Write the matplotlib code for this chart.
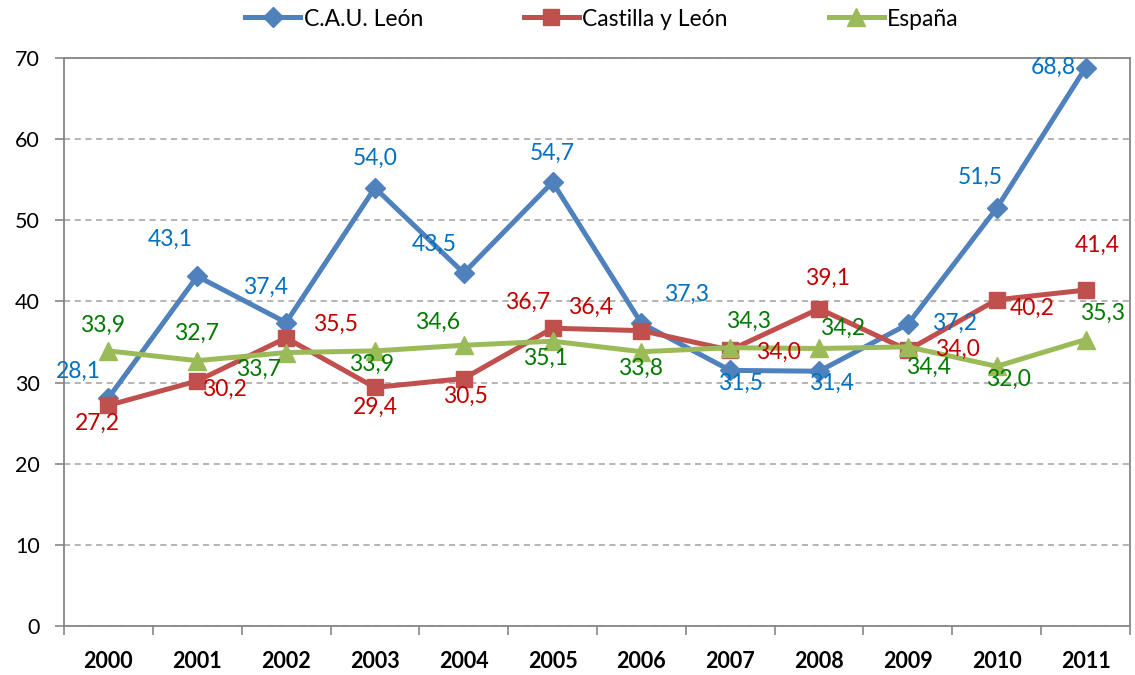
import matplotlib
matplotlib.use("Agg")
import matplotlib.pyplot as plt
from matplotlib.lines import Line2D
import numpy as np

years = ["2000", "2001", "2002", "2003", "2004", "2005", "2006", "2007", "2008", "2009", "2010", "2011"]
cau_leon = [28.1, 43.1, 37.4, 54.0, 43.5, 54.7, 37.3, 31.5, 31.4, 37.2, 51.5, 68.8]
castilla_leon = [27.2, 30.2, 35.5, 29.4, 30.5, 36.7, 36.4, 34.0, 39.1, 34.0, 40.2, 41.4]
espana = [33.9, 32.7, 33.7, 33.9, 34.6, 35.1, 33.8, 34.3, 34.2, 34.4, 32.0, 35.3]
series_names = ["C.A.U. León", "Castilla y León", "España"]

# label offsets in pixels (dx, dy) with dy positive downward in the reference image
off_cau = [(-30, -27), (-27, -37), (-21, -35), (0, -29), (-30, -29), (0, -29),
           (45, -29), (10, 13), (12, 12), (47, -1), (-16, -31), (-32, 0)]
off_cyl = [(-11, 18), (27, 8), (49, -14), (0, 20), (2, 18), (-25, -26),
           (-51, -23), (48, 2), (8, -30), (50, -1), (35, 9), (12, -45)]
off_esp = [(-6, -26), (-1, -27), (-28, 17), (-3, 13), (-26, -23), (-7, 17),
           (-1, 17), (18, -26), (23, -20), (21, 20), (12, 13), (17, -26)]

FONT = "Lato"
plt.rcParams['font.family'] = [FONT, 'DejaVu Sans']

W, H = 1135, 675
fig = plt.figure(figsize=(W / 100, H / 100), dpi=100)
left, right, top, bottom = 64, 1130, 58, 626
ax = fig.add_axes([left / W, (H - bottom) / H, (right - left) / W, (bottom - top) / H])

x = np.arange(len(years))
styles = [
    (cau_leon, "#4F81BD", "D", 10.5, "#0070C0", off_cau),
    (castilla_leon, "#C0504D", "s", 12, "#C00000", off_cyl),
    (espana, "#9BBB59", "^", 13, "#007A00", off_esp),
]
handles = []
for (vals, col, mk, ms, lcol, offs), name in zip(styles, series_names):
    ax.plot(x, vals, color=col, lw=3.6, marker=mk, markersize=ms, markeredgecolor=col,
            markerfacecolor=col, zorder=3)
    handles.append(Line2D([0], [0], color=col, lw=3.6, marker=mk, markersize=ms,
                          markeredgecolor=col, markerfacecolor=col))
    for xi, v, (dx, dy) in zip(x, vals, offs):
        ax.annotate(f"{v:.1f}".replace(".", ","), (xi, v), xytext=(dx * 0.72, -dy * 0.72),
                    textcoords="offset points", ha="center", va="center",
                    color=lcol, fontsize=16.5, zorder=4, annotation_clip=False)

ax.set_xlim(-0.5, len(years) - 0.5)
ax.set_ylim(0, 70)
ax.set_yticks(np.arange(0, 71, 10))
ax.set_yticklabels([str(v) for v in range(0, 71, 10)], fontsize=15.5)
ax.yaxis.grid(True, linestyle=(0, (4, 3)), color="#A0A0A0", lw=1.1)
ax.set_axisbelow(True)

ax.set_xticks(np.arange(-0.5, len(years), 1))
ax.set_xticklabels([])
ax.set_xticks(x, minor=True)
ax.set_xticklabels(years, minor=True, fontsize=15.5, fontweight="bold")
ax.tick_params(axis="x", which="major", length=6.5, color="#868686", direction="out", width=1.2)
ax.tick_params(axis="x", which="minor", length=0, pad=18)
ax.tick_params(axis="y", length=6.5, color="#868686", width=1.2, pad=11)

for s in ax.spines.values():
    s.set_color("#868686")
    s.set_linewidth(1.3)

fig.legend(handles, series_names, loc="center", bbox_to_anchor=(602 / W, 1 - 19 / H),
           ncol=3, frameon=False, fontsize=16.5, handlelength=2.4, handletextpad=0.15,
           columnspacing=4.4)

fig.savefig("out.png", dpi=100)
